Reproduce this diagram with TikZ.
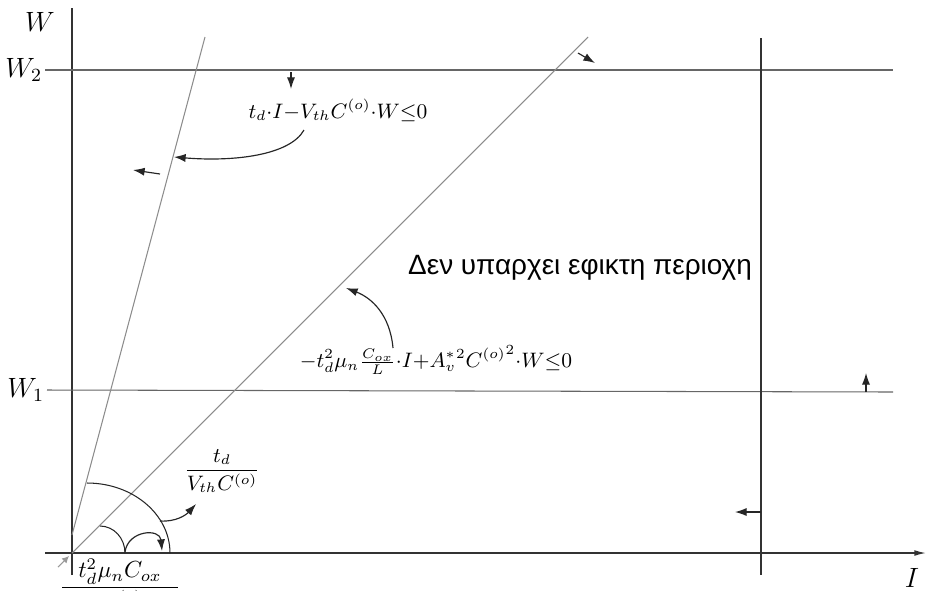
\documentclass[tikz,border=0pt]{standalone}
\usepackage{amsmath}
\usepackage{fontspec}
\newfontfamily\greekfont{Liberation Sans}
\usetikzlibrary{arrows.meta}
\begin{document}
\begin{tikzpicture}[x=0.43pt,y=-0.43pt,
  axis/.style={draw=black!80,line width=0.6pt},
  bound/.style={draw=black!60,line width=0.45pt},
  tip/.style={draw=black!85,line width=0.5pt,-{Latex[length=5pt,width=3.5pt]}}]
\useasboundingbox (0,0) rectangle (928,590);

   \coordinate (O) at (72,553);
   \node at (40,22)  (W) {\large $W$};
   \node[left,inner sep=1pt] at (45,70)  (W2) {\large $W_2$};
   \node[left,inner sep=1pt] at (47,390) (W1) {\large $W_1$};
   \node at (912,578) (I) {\large $I$};

   % axes
   \draw[axis,-{Latex[length=5pt,width=2.5pt]}] (45,553) -- (926,553);
   \draw[axis] (72,575) -- (72,8);

   % bounds
   \draw[bound] (W2.east) -- (893,70);
   \draw[bound] (W1.east) -- (893,392);
   \draw[axis] (761,38) -- (761,575);
   \draw[bound,draw=black!45] (72,535) -- (205,37);
   \draw[bound,draw=black!45] (O) -- (588,37);

   % feasible side markers
   \draw[tip] (291,72) -- (291,89);
   \draw[tip] (578,53) -- (595,63);
   \draw[tip] (160,174) -- (133,170);
   \draw[tip] (761,512) -- (735,512);
   \draw[tip] (866,392) -- (866,373);
   \draw[bound,draw=black!40,-{Latex[length=3pt,width=3pt]}] (58,567) -- (69,556);

   % labels
   \node at (338,110) (L1) {\small $t_d{\cdot}I{-}V_{th}C^{(o)}{\cdot}W{\le}0$};
   \node at (436,360) (L2) {\small $-t_d^2\mu_n\frac{C_{ox}}{L}{\cdot}I{+}{A_v^*}^2{C^{(o)}}^2{\cdot}W{\le}0$};
   \node at (222,471) (L3) {\small $\dfrac{t_d}{V_{th}C^{(o)}}$};
   \node at (120,587) (L4) {$\dfrac{t_d^2\mu_nC_{ox}}{(A_v^*C^{(o)})^2L}$};
   \node at (580,268) (R) {\greekfont\large Δεν υπαρχει εφικτη περιοχη};

   % angle arcs
   \draw[bound,draw=black!85] (87,483) arc[start angle=-90,end angle=0,x radius=83,y radius=70];
   \draw[bound,draw=black!85] (100,526) arc[start angle=-90,end angle=0,x radius=25,y radius=27];

   % pointers
   \draw[tip] (304,130) .. controls (290,155) and (235,162) .. (174,157);
   \draw[tip] (393,348) .. controls (390,315) and (372,298) .. (346,288);
   \draw[tip] (160,521) .. controls (176,522) and (186,515) .. (196,504);
   \draw[tip] (125,552) .. controls (128,530) and (160,528) .. (162,551);

\end{tikzpicture}
\end{document}
